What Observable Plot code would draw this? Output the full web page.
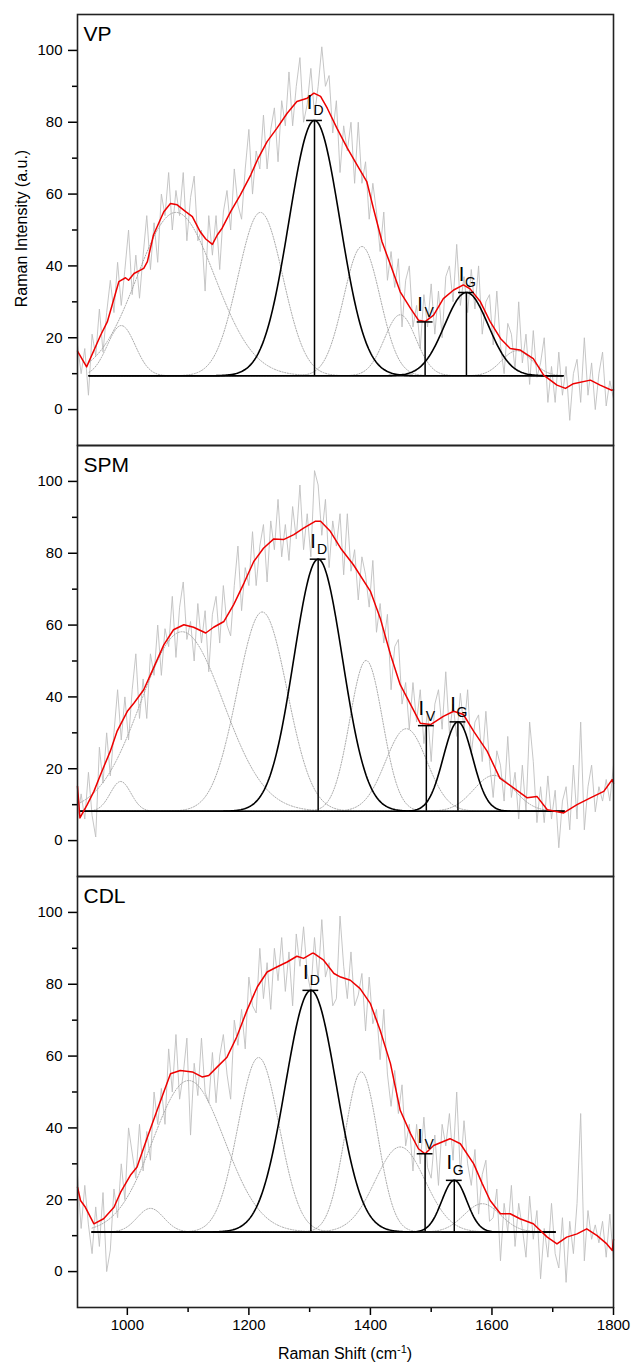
<!DOCTYPE html>
<html><head><meta charset="utf-8">
<script src="https://cdn.jsdelivr.net/npm/d3@7"></script>
<script src="https://cdn.jsdelivr.net/npm/@observablehq/plot@0.6"></script>
<style>body{margin:0;background:#fff}</style>
</head><body><div id="chart"></div>
<script>
// ---------- data ----------
const panels = ["VP", "SPM", "CDL"];
const xTicks = [1000, 1200, 1400, 1600, 1800];
const xMinorTicks = [1100, 1300, 1500, 1700];
const yTicks = [0, 20, 40, 60, 80, 100];
const yMinorTicks = [10, 30, 50, 70, 90];

// raw spectra (Raman shift starts at 918 cm-1, one value every 6 cm-1)
const rawStart = 918, rawStep = 6;
const rawVP = [18,10,17,4,21,15,28,16,27,36, 27,41,29,39,50,32,43,31,43,54, 39,52,41,60,54,66,50,61,54,66,
  47,59,65,47,50,33,54,43,54,39, 55,61,50,67,57,53,67,78,60,72, 67,82,67,78,84,69,86,79,94,79,
  90,98,80,85,95,82,90,101,90,93, 77,86,66,79,72,80,63,80,63,69, 53,63,55,44,55,36,44,34,42,23,
  36,40,23,29,17,32,23,35,21,33, 20,37,40,30,46,29,37,27,39,28, 40,21,30,32,18,33,18,10,24,21,
  11,30,13,21,7,22,9,13,20,2, 12,2,16,4,12,-3,10,14,2,20, 4,13,0,10,16,1,8,3];
const rawSPM = [6,13,6,19,7,1,26,16,30,18, 30,42,28,40,28,42,52,34,45,34, 52,46,60,46,59,54,68,51,65,72,
  56,61,50,66,55,64,47,63,68,55, 71,60,57,71,82,64,76,71,86,71, 82,88,72,89,81,95,79,88,78,93,
  84,99,81,91,79,103,99,85,95,76, 89,82,91,74,91,75,81,67,79,74, 65,78,58,66,55,63,42,54,56,38,
  44,31,44,33,42,27,36,22,38,42, 31,47,30,38,29,41,31,42,24,33, 35,22,36,22,12,25,21,11,29,12,
  19,6,21,8,33,22,5,15,5,18, 6,14,-2,11,15,3,21,6,33,3, 15,21,8,15,11,17,11,21];
const rawCDL = [27,12,24,13,5,18,7,22,0,6, 23,15,30,20,40,33,26,41,28,39, 31,50,41,51,41,62,50,66,48,55,
  65,38,58,49,65,50,47,61,47,60, 66,55,48,70,63,73,62,82,74,72, 90,76,86,73,90,81,93,78,89,74,
  94,85,96,83,78,93,81,98,82,86, 74,76,99,85,76,89,74,77,83,67, 82,69,73,59,73,55,46,56,44,52,
  35,41,28,41,30,43,29,26,38,24, 41,35,44,31,50,27,42,30,24,34, 16,27,31,14,15,23,3,19,11,24,
  7,19,12,4,21,9,17,-2,12,4, 19,5,1,15,-3,14,5,19,44,3, 17,9,13,8,14,4,16,3];

// smoothed spectra [shift, intensity]
const smoothVP = [[918,16.3],[933,11.9],[956,20.7],[967,24.4],[986,35.6],[997,36.7],[1002,36],[1011,37.9],[1027,39.3],
  [1033,41.2],[1043,48.6],[1060,55.1],[1071,57.4],[1082,57],[1096,55.1],[1107,53.7],[1120,49.5],[1129,47.5],[1140,46],
  [1148,48.6],[1156,50.5],[1170,55.1],[1186,59.8],[1203,65.3],[1214,69.5],[1230,74.6],[1246,78.3],[1263,82.5],[1279,85.8],
  [1296,86.7],[1307,88.1],[1318,87.2],[1329,83.9],[1345,78.3],[1362,72.8],[1381,67.2],[1394,63.5],[1405,56],[1419,46.8],
  [1433,40.3],[1449,32.8],[1466,28.2],[1479,24.9],[1490,24.5],[1504,26.3],[1520,30.9],[1537,33.3],[1553,34.7],[1564,33.6],
  [1581,30],[1597,24.5],[1614,19.8],[1630,17],[1646,16.6],[1668,14.2],[1685,9.6],[1707,6.8],[1721,5.9],[1734,7.2],
  [1762,8.2],[1778,6.8],[1797,5.4],[1800,5.5]];
const smoothSPM = [[918,15.1],[922,6.3],[934,10],[945,13.7],[956,18.4],[972,24.9],[983,30.4],[1000,36],[1011,38.3],
  [1027,42],[1043,48],[1060,54.5],[1076,58.7],[1093,60.1],[1109,59.4],[1129,57.8],[1142,59.4],[1159,61],[1175,65.7],
  [1192,71.7],[1208,77.7],[1224,81.4],[1241,84],[1257,83.8],[1274,85.2],[1290,87],[1309,88.9],[1318,88.9],[1334,86.1],
  [1351,81.4],[1372,76.8],[1400,69.4],[1416,62],[1433,51.8],[1449,43.4],[1466,37.9],[1482,32.7],[1499,32.3],[1520,34.6],
  [1537,36],[1553,35.1],[1570,30.4],[1592,24.9],[1613,17.4],[1636,14.6],[1658,11.9],[1674,12.3],[1691,8.6],[1718,7.7],
  [1740,10],[1762,11.9],[1784,13.7],[1798,17],[1800,16]];
const smoothCDL = [[918,23.5],[923,19.8],[931,17.9],[945,13.3],[961,14.7],[978,17.9],[989,22.1],[1005,26.8],[1016,29.1],
  [1033,37.4],[1049,44.9],[1071,55.1],[1087,56],[1107,55.6],[1123,54.2],[1134,54.6],[1148,57],[1164,59.7],[1180,65.3],
  [1197,72.8],[1214,79.3],[1230,83.4],[1246,84.8],[1263,86.2],[1279,87.8],[1290,87.2],[1304,88.6],[1307,88.6],[1323,86.7],
  [1340,83],[1351,82],[1367,81.1],[1383,78.8],[1400,74.6],[1416,67.2],[1433,57.9],[1449,44.9],[1466,38.4],[1479,34.2],
  [1490,32.8],[1504,35.1],[1531,37],[1548,35.6],[1570,30],[1584,24.5],[1597,19.8],[1614,16.1],[1630,16.1],[1646,14.7],
  [1668,13.3],[1691,9.6],[1707,7.7],[1723,9.6],[1740,10.5],[1756,11.9],[1773,10],[1789,7.7],[1798,5.9],[1800,9]];

// fit baselines per panel
const baseLevel = [9.4, 8.15, 11];
const baseFrom = [937, 923, 942];
const baseTo = [1718, 1720, 1704];

// fitted bands [centre, height above baseline, sigma]
const compVP = [[990,14,23],[1080,45.5,64],[1219,45.5,37],[1386,36,30],[1449,17,26],[1641,7,25]];
const compSPM = [[989,8.3,17],[1090,50,68],[1222,55.5,41],[1393,42,27],[1459,23,34],[1603,10,33]];
const compCDL = [[1038,6.6,22],[1101,42.2,59],[1216,48.6,34],[1385,44.6,27],[1449,23.7,41],[1584,7.9,30]];
const bandD = [[1308,71.1,42],[1314,70.2,40],[1302,67.3,42]];
const bandG = [[1558,23.2,36],[1544,24.9,24],[1538,14.4,20.5]];
const valleyV = [[1490,24.4],[1492,32],[1490,32.8]];

// ---------- build rows ----------
const raws = [rawVP, rawSPM, rawCDL];
const smooths = [smoothVP, smoothSPM, smoothCDL];
const comps = [compVP, compSPM, compCDL];

const rawRows = panels.flatMap((p, k) => raws[k].map((v, i) => ({panel: p, x: rawStart + rawStep * i, y: v})));
const smoothRows = panels.flatMap((p, k) => smooths[k].map(([x, y]) => ({panel: p, x, y})));

function bandCurve(panel, id, [c, h, s], base, from, to) {
  const rows = [];
  for (let x = from; x <= to; x += 2) rows.push({panel, id, x, y: base + h * Math.exp(-((x - c) ** 2) / (2 * s * s))});
  return rows;
}
const dottedRows = panels.flatMap((p, k) => comps[k].flatMap((b, j) => bandCurve(p, p + j, b, baseLevel[k], baseFrom[k], baseTo[k])));
const blackRows = panels.flatMap((p, k) => [
  ...bandCurve(p, p + "D", bandD[k], baseLevel[k], baseFrom[k], baseTo[k]),
  ...bandCurve(p, p + "G", bandG[k], baseLevel[k], baseFrom[k], baseTo[k])]);
const baseRows = panels.map((p, k) => ({panel: p, y: baseLevel[k], x1: baseFrom[k], x2: baseTo[k]}));
const markRows = panels.flatMap((p, k) => [
  {panel: p, name: "D", x: bandD[k][0], y1: baseLevel[k], y2: baseLevel[k] + bandD[k][1]},
  {panel: p, name: "V", x: valleyV[k][0], y1: baseLevel[k], y2: valleyV[k][1]},
  {panel: p, name: "G", x: bandG[k][0], y1: baseLevel[k], y2: baseLevel[k] + bandG[k][1]}]);
const panelRows = panels.map(p => ({panel: p}));

const font = "'Liberation Sans', Arial, Helvetica, sans-serif";

const chart = Plot.plot({
  width: 632,
  height: 1363,
  marginLeft: 77,
  marginRight: 19,
  marginTop: 13,
  marginBottom: 56,
  style: {fontFamily: font, fontSize: "15px", background: "#fff", color: "#000"},
  x: {domain: [918, 1800]},
  y: {domain: [-10, 110]},
  fy: {domain: panels, padding: 0, axis: null},
  marks: [
    Plot.line(rawRows, {x: "x", y: "y", fy: "panel", stroke: "#c0c0c0", strokeWidth: 0.9}),
    Plot.line(dottedRows, {x: "x", y: "y", z: "id", fy: "panel", stroke: "#a0a0a0", strokeWidth: 0.9, strokeDasharray: "1.2,1.5"}),
    Plot.ruleY(baseRows, {y: "y", x1: "x1", x2: "x2", fy: "panel", stroke: "#333", strokeWidth: 1.3}),
    Plot.line(blackRows, {x: "x", y: "y", z: "id", fy: "panel", stroke: "#000", strokeWidth: 1.6}),
    Plot.line(smoothRows, {x: "x", y: "y", fy: "panel", stroke: "#ee0000", strokeWidth: 1.5}),
    Plot.ruleX(markRows, {x: "x", y1: "y1", y2: "y2", fy: "panel", stroke: "#000", strokeWidth: 1.5}),
    Plot.ruleY(markRows, {y: "y2", x1: d => d.x - 13, x2: d => d.x + 13, fy: "panel", stroke: "#000", strokeWidth: 1.5}),
    Plot.text(markRows, {x: "x", y: "y2", fy: "panel", text: () => "I", dx: -5, dy: -11, lineAnchor: "bottom", fontSize: 20, fill: "#000"}),
    Plot.text(markRows, {x: "x", y: "y2", fy: "panel", text: "name", dx: 4, dy: -5, lineAnchor: "bottom", fontSize: 14, fill: "#000"}),
    Plot.text(panelRows, {fy: "panel", text: "panel", frameAnchor: "top-left", dx: 6, dy: 26, lineAnchor: "bottom", textAnchor: "start", fontSize: 21, fill: "#000"}),
    Plot.axisY({ticks: yTicks, tickSize: 9, tickPadding: 6, label: null, fontSize: 15, strokeWidth: 1.5}),
    Plot.axisY({ticks: yMinorTicks, tickSize: 5, tickFormat: () => "", label: null, strokeWidth: 1.5}),
    Plot.axisX({ticks: xTicks, tickSize: 8, tickPadding: 4, tickFormat: d3.format("d"), label: null, fontSize: 15, strokeWidth: 1.5}),
    Plot.axisX({ticks: xMinorTicks, tickSize: 5, tickFormat: () => "", label: null, strokeWidth: 1.5}),
    Plot.frame({stroke: "#222", strokeWidth: 1.6})
  ]
});
document.getElementById("chart").appendChild(chart);

// axis titles
const svg = d3.select(chart);
svg.append("text")
  .attr("transform", "translate(27,228.5) rotate(-90)")
  .attr("text-anchor", "middle")
  .attr("font-family", font).attr("font-size", 16).attr("fill", "#000")
  .text("Raman Intensity (a.u.)");
const xt = svg.append("text")
  .attr("x", 345).attr("y", 1359)
  .attr("text-anchor", "middle")
  .attr("font-family", font).attr("font-size", 16).attr("fill", "#000");
xt.append("tspan").text("Raman Shift (cm");
xt.append("tspan").attr("font-size", 11).attr("dy", -6).text("-1");
xt.append("tspan").attr("dy", 6).text(")");
</script>
</body></html>
